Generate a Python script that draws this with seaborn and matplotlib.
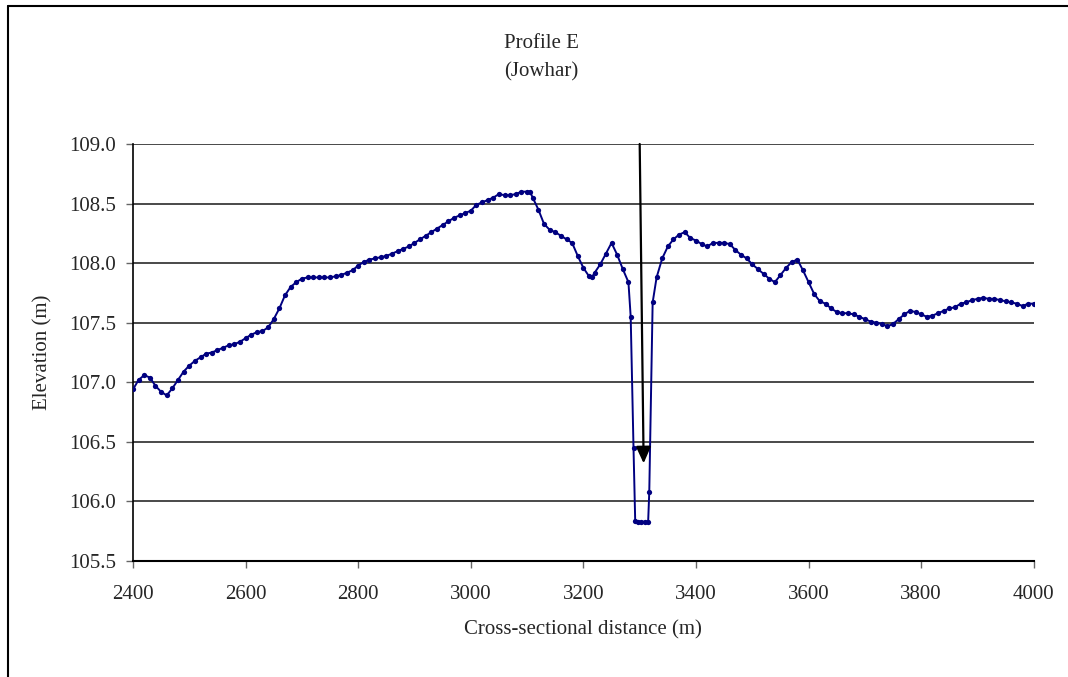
import matplotlib
matplotlib.use("Agg")
import matplotlib.pyplot as plt
import matplotlib.lines as mlines
import seaborn as sns
import pandas as pd

# Surveyed ground profile across the river at Jowhar
distance_m = [
    2400, 2410, 2420, 2430, 2440, 2450, 2460, 2470, 2480, 2490,
    2500, 2510, 2520, 2530, 2540, 2550, 2560, 2570, 2580, 2590,
    2600, 2610, 2620, 2630, 2640, 2650, 2660, 2670, 2680, 2690,
    2700, 2710, 2720, 2730, 2740, 2750, 2760, 2770, 2780, 2790,
    2800, 2810, 2820, 2830, 2840, 2850, 2860, 2870, 2880, 2890,
    2900, 2910, 2920, 2930, 2940, 2950, 2960, 2970, 2980, 2990,
    3000, 3010, 3020, 3030, 3040, 3050, 3060, 3070, 3080, 3090,
    3100, 3105, 3110, 3120, 3130, 3140, 3150, 3160, 3170, 3180,
    3190, 3200, 3210, 3215, 3220, 3230, 3240, 3250, 3260, 3270,
    3280, 3284, 3289, 3292, 3297, 3303, 3309, 3315, 3317, 3323,
    3330, 3340, 3350, 3360, 3370, 3380, 3390, 3400, 3410, 3420,
    3430, 3440, 3450, 3460, 3470, 3480, 3490, 3500, 3510, 3520,
    3530, 3540, 3550, 3560, 3570, 3580, 3590, 3600, 3610, 3620,
    3630, 3640, 3650, 3660, 3670, 3680, 3690, 3700, 3710, 3720,
    3730, 3740, 3750, 3760, 3770, 3780, 3790, 3800, 3810, 3820,
    3830, 3840, 3850, 3860, 3870, 3880, 3890, 3900, 3910, 3920,
    3930, 3940, 3950, 3960, 3970, 3980, 3990, 4000,
]
elevation_m = [
    106.94, 107.02, 107.06, 107.04, 106.97, 106.92, 106.89, 106.95, 107.02, 107.09,
    107.14, 107.18, 107.21, 107.24, 107.25, 107.27, 107.29, 107.31, 107.32, 107.34,
    107.37, 107.40, 107.42, 107.43, 107.46, 107.53, 107.62, 107.73, 107.80, 107.84,
    107.87, 107.88, 107.88, 107.88, 107.88, 107.88, 107.89, 107.90, 107.92, 107.94,
    107.98, 108.01, 108.03, 108.04, 108.05, 108.06, 108.08, 108.10, 108.12, 108.14,
    108.17, 108.20, 108.23, 108.26, 108.29, 108.32, 108.35, 108.38, 108.40, 108.42,
    108.44, 108.49, 108.51, 108.53, 108.55, 108.58, 108.57, 108.57, 108.58, 108.60,
    108.60, 108.60, 108.55, 108.45, 108.33, 108.28, 108.26, 108.23, 108.20, 108.17,
    108.06, 107.96, 107.89, 107.88, 107.92, 107.99, 108.08, 108.17, 108.07, 107.95,
    107.84, 107.55, 106.45, 105.84, 105.83, 105.83, 105.83, 105.83, 106.08, 107.67,
    107.88, 108.04, 108.14, 108.20, 108.24, 108.26, 108.21, 108.19, 108.16, 108.14,
    108.17, 108.17, 108.17, 108.16, 108.11, 108.07, 108.04, 107.99, 107.95, 107.91,
    107.87, 107.84, 107.90, 107.96, 108.01, 108.03, 107.94, 107.84, 107.74, 107.68,
    107.66, 107.62, 107.59, 107.58, 107.58, 107.57, 107.55, 107.53, 107.51, 107.50,
    107.49, 107.47, 107.49, 107.53, 107.57, 107.60, 107.59, 107.57, 107.55, 107.56,
    107.58, 107.60, 107.62, 107.63, 107.66, 107.67, 107.69, 107.70, 107.71, 107.70,
    107.70, 107.69, 107.68, 107.67, 107.66, 107.64, 107.66, 107.66,
]

x_ticks = [2400, 2600, 2800, 3000, 3200, 3400, 3600, 3800, 4000]
y_ticks = [105.5, 106.0, 106.5, 107.0, 107.5, 108.0, 108.5, 109.0]

# Arrow marking the river channel
arrow_tail = (3300, 109.0)
arrow_head = (3307, 106.32)

title_text = "Profile E"
subtitle_text = "(Jowhar)"
x_label = "Cross-sectional distance (m)"
y_label = "Elevation (m)"

sns.set_style("white")
plt.rcParams["font.family"] = ["Liberation Serif", "DejaVu Serif"]

df = pd.DataFrame({"distance": distance_m, "elevation": elevation_m})

fig = plt.figure(figsize=(10.68, 6.77), dpi=100)
ax = fig.add_axes([0.1245, 0.1713, 0.968 - 0.1245, 0.7873 - 0.1713])

for yv in y_ticks[1:]:
    ax.axhline(yv, color="#3a3a3a", lw=1.3, zorder=1)

sns.lineplot(data=df, x="distance", y="elevation", ax=ax, color="#000080",
             lw=1.4, marker="o", markersize=3.8, markeredgewidth=0,
             sort=False, zorder=3)

ax.annotate("", xy=arrow_head, xytext=arrow_tail,
            arrowprops=dict(arrowstyle="-|>,head_length=1.0,head_width=0.45",
                            color="black", lw=1.6, shrinkA=0, shrinkB=0),
            zorder=4)

ax.set_xlim(x_ticks[0], x_ticks[-1])
ax.set_ylim(y_ticks[0], y_ticks[-1])
ax.set_xticks(x_ticks)
ax.set_yticks(y_ticks)
ax.set_xticklabels([str(v) for v in x_ticks])
ax.set_yticklabels([f"{v:.1f}" for v in y_ticks])

ax.tick_params(axis="x", direction="out", length=5, width=1, color="#666666",
               labelsize=15, pad=12, bottom=True)
ax.tick_params(axis="y", direction="out", length=5, width=1, color="#666666",
               labelsize=15, pad=7, left=True)

for side in ["top", "right"]:
    ax.spines[side].set_visible(False)
ax.spines["left"].set_color("black")
ax.spines["bottom"].set_color("black")
ax.spines["left"].set_linewidth(1.2)
ax.spines["bottom"].set_linewidth(1.5)

ax.set_xlabel(x_label, fontsize=15, labelpad=12)
ax.set_ylabel(y_label, fontsize=15, labelpad=12)

fig.text(541 / 1068, 1 - 43 / 677, title_text, ha="center", va="center", fontsize=15)
fig.text(541 / 1068, 1 - 72 / 677, subtitle_text, ha="center", va="center", fontsize=15)

# Border line along the left and top edges of the chart area
fig.add_artist(mlines.Line2D([7.5 / 1068, 7.5 / 1068], [0, 1 - 6 / 677],
                             transform=fig.transFigure, color="black", lw=1.5))
fig.add_artist(mlines.Line2D([7.5 / 1068, 1], [1 - 6 / 677, 1 - 6 / 677],
                             transform=fig.transFigure, color="black", lw=1.5))

fig.savefig("out.png", dpi=100, facecolor="white")
